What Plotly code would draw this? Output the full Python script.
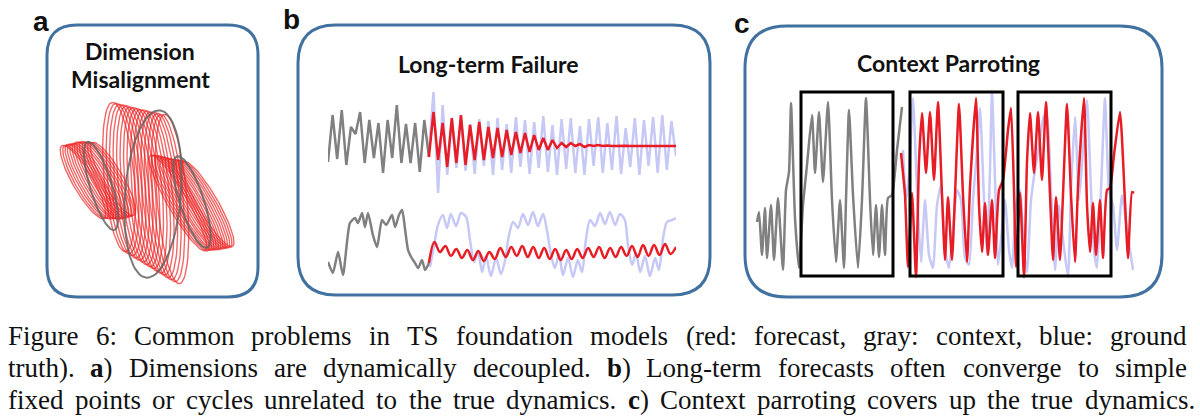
import numpy as np
import plotly.graph_objects as go

W, H = 1200, 419

# ---------------- panel a : phase portrait loops ----------------
# red forecast loops: centre x, centre y, half-length, half-width, tilt (deg)
a_mid_cx = [-29, -25.5, -22, -18.5, -15, -11.5, -8, -4.5, -1, 2.5, 6, 9.5, 13, 16.5, 20, 24]
a_mid_cy = [15, 13.5, 12, 10.5, 9, 7.5, 6, 4.5, 3, 1.5, 0, -1.5, -3, -4.5, -6, -7]
a_mid_len = [75, 75.5, 76, 77, 77.5, 78, 79, 79.5, 80, 81, 81.5, 82, 83, 83.5, 84, 85]
a_mid_wid = 15
a_mid_tilt = 95

a_left_cx = [-65, -62.5, -60, -57.5, -55, -52.5, -50, -47.5, -45, -42.5, -40, -37.5, -35]
a_left_cy = [10, 10, 10.5, 10.5, 11, 11, 11.5, 11.5, 12, 12, 12.5, 12.5, 13]
a_left_len = [42, 42, 42.5, 43, 43, 43.5, 44, 44, 44, 43.5, 43, 42.5, 42]
a_left_wid = 10
a_left_tilt = -60

a_right_cx = [30, 32.5, 35, 37.5, 40, 42.5, 45, 47.5, 50, 52.5, 55, 57.5, 60]
a_right_cy = [-11, -11, -11, -11, -11.5, -11.5, -12, -12, -12, -12, -12, -12, -12]
a_right_len = [55, 55, 54.5, 54, 53.5, 53, 52.5, 52, 51.5, 51, 50.5, 50, 49]
a_right_wid = 10
a_right_tilt = -60

# gray context loops
a_ctx_cx = [5, -47, 44]
a_ctx_cy = [-2, 6, -10]
a_ctx_len = [84, 46, 48]
a_ctx_wid = [28, 11, 12]
a_ctx_tilt = [85.5, -73, -72]

# ---------------- panel b : long-term failure ----------------
b_top_context = [-16, 31, -13, 36, -19, 19, 12, 34, -17, 26, -12, 23, -27, 26,
                 -12, 41, -17, 22, -17, 23, -26, 26, -11]
b_top_forecast = [-11, 34, -14, 23, -21, 28, -17, 31, -19, 21, -14, 24, -14, 19,
                  -12, 18, -11, 16, -9, 14, -7, 13, -6, 11, -4, 8, -4, 6, -2, 3,
                  -1, 3, 0, 2, -1, 1, 0, 1, 0, 0.5, 0, 0.3, 0, 0.2, 0, 0, 0, 0,
                  0, 0, 0, 0, 0, 0, 0]
b_top_truth = [-5, 54, -47, 41, -29, 26, -22, 30, -25, 22, -28, 27, -20, 25,
               -29, 28, -24, 22, -27, 29, -21, 26, -28, 24, -22, 30, -26, 21,
               -29, 27, -23, 28, -27, 20, -29, 27, -20, 29, -27, 23, -24, 30,
               -28, 18, -21, 28, -29, 26, -20, 29, -27, 31, -24, 25, -10]

b_bot_context_t = [0, 1.4, 2.9, 4.3, 6.3, 7.8, 8.6, 9.8, 10.6, 11.5, 12.9, 14.1,
                   15.5, 16.7, 18.4, 19.3, 20.4, 21.3, 22.1, 23.0, 23.9, 25.0,
                   25.9, 27.0, 27.9, 29.0]
b_bot_context = [-12, -23, -2, -25, 27, 32, 27, 37, 23, 37, 15, 3, 30, 25, 35,
                 23, 35, 40, 22, 0, -7, -13, -18, -10, -20, -13]
b_bot_forecast = [-13, 8, -2, 4, -6, 1, -8, 0, -10, -1, -11, -2, -9, 2, -7, 3,
                  -6, 4, -7, 3, -8, 2, -9, 1, -10, 0, -9, 1, -8, 2, -7, 3, -8,
                  2, -7, 3, -6, 4, -7, 5, -6, 5, -5, 6, -4, 3]
b_bot_truth_t = [29.3, 30.5, 31.6, 33.0, 34.2, 35.3, 36.8, 38.2, 39.7, 40.8,
                 42.0, 43.1, 44.3, 45.4, 46.8, 48.3, 49.7, 50.9, 52.0, 53.2,
                 54.6, 56.0, 57.5, 58.9, 60.3, 61.8, 62.9, 64.1, 65.2, 66.4,
                 67.5, 69.0, 70.4, 71.8, 73.0, 74.1, 75.3, 76.7, 78.2, 79.6,
                 81.0, 82.5, 83.9, 85.3, 86.2, 87.4, 88.5, 89.7, 91.1, 92.5,
                 94.0, 95.1, 96.3, 97.4, 98.9, 100]
b_bot_truth = [-17, 5, 25, 35, 22, 36, 24, 37, 33, 10, -12, -2, -22, -6, -26,
               -8, -24, -10, 15, 28, 22, 36, 25, 38, 24, 36, 20, -5, -18, -4,
               -25, -8, -27, -10, -22, 10, 30, 24, 37, 26, 38, 25, 36, 30, 5,
               -15, -3, -22, -6, -26, -8, -20, 12, 28, 30, 32]

# ---------------- panel c : context parroting ----------------
c_context_t = [2, 4, 7, 10, 12, 16, 19, 23, 28, 31, 34, 36, 40, 44, 48, 52, 57,
               60, 64, 68, 73, 77, 81, 85, 89, 91, 94, 98, 103, 107, 111, 115,
               118, 121, 124, 127, 130, 133, 137, 142, 147]
c_context = [58, 68, 25, 72, 22, 75, 20, 82, 10, 90, 108, 177, 62, 12, 75, 115,
             165, 107, 168, 98, 178, 80, 18, 80, 12, 80, 170, 85, 12, 80, 182,
             80, 25, 75, 23, 75, 25, 82, 85, 130, 173]
c_forecast_t = [146, 150, 153, 157, 161, 164, 167, 171, 175, 179, 183, 187,
                190, 193, 197, 200, 204, 208, 212, 215, 221, 224, 227, 230,
                233, 237, 240, 244, 248, 253, 256, 259, 261, 265, 269, 272,
                275, 279, 283, 287, 291, 295, 298, 301, 305, 308, 312, 316,
                320, 323, 329, 332, 335, 338, 341, 345, 348, 352, 355, 359,
                365, 370, 373, 377, 379]
c_forecast = [127, 85, 13, 87, 3, 118, 167, 107, 168, 100, 178, 85, 20, 83, 20,
              85, 176, 85, 18, 93, 182, 75, 28, 77, 25, 80, 22, 90, 100, 150,
              172, 90, 13, 87, 3, 118, 167, 107, 168, 100, 178, 85, 20, 83, 20,
              85, 176, 85, 18, 93, 182, 75, 28, 77, 25, 80, 22, 90, 92, 125,
              168, 78, 22, 88, 87]
c_truth_t = [148, 151, 154, 158, 162, 166, 170, 174, 178, 182, 186, 190, 194,
             198, 202, 206, 210, 214, 218, 222, 225, 229, 232, 235, 237, 240,
             243, 247, 250, 254, 257, 261, 265, 269, 272, 276, 280, 285, 289,
             292, 296, 300, 304, 308, 313, 316, 320, 324, 328, 332, 336, 339,
             342, 346, 350, 354, 358, 362, 367, 372, 378]
c_truth = [130, 80, 105, 182, 90, 18, 80, 25, 12, 75, 95, 30, 12, 50, 90, 80,
           22, 15, 80, 130, 172, 80, 25, 110, 188, 100, 15, 50, 80, 30, 12, 75,
           90, 30, 8, 80, 110, 140, 165, 162, 90, 10, 75, 40, 3, 90, 163, 80,
           130, 180, 90, 30, 12, 90, 182, 90, 75, 30, 85, 50, 10]
c_windows_t0 = [46, 155, 263]
c_windows_t1 = [138, 248, 356]
c_window_lo, c_window_hi = 4, 188

caption_lines = [
    "Figure 6: Common problems in TS foundation models (red: forecast, gray: context, blue: ground",
    "truth). <b>a</b>) Dimensions are dynamically decoupled. <b>b</b>) Long-term forecasts often converge to simple",
    "fixed points or cycles unrelated to the true dynamics. <b>c</b>) Context parroting covers up the true dynamics.",
]

GRAY = "rgb(128,128,128)"
RED = "rgb(232,28,36)"
BLUE = "rgb(198,200,246)"
FRAME = "rgb(65,113,160)"


def xp(p):
    return p / W


def yp(p):
    return 1 - p / H


def ellipse(cx, cy, a, b, tilt):
    s = np.linspace(0, 2 * np.pi, 73)
    th = np.radians(tilt)
    x = cx + a * np.cos(s) * np.cos(th) - b * np.sin(s) * np.sin(th)
    y = cy + a * np.cos(s) * np.sin(th) + b * np.sin(s) * np.cos(th)
    return x, y


fig = go.Figure()

# panel a
red_loops = []
for cx, cy, ln in zip(a_left_cx, a_left_cy, a_left_len):
    red_loops.append((cx, cy, ln, a_left_wid, a_left_tilt))
for cx, cy, ln in zip(a_mid_cx, a_mid_cy, a_mid_len):
    red_loops.append((cx, cy, ln, a_mid_wid, a_mid_tilt))
for cx, cy, ln in zip(a_right_cx, a_right_cy, a_right_len):
    red_loops.append((cx, cy, ln, a_right_wid, a_right_tilt))

for cx, cy, ln, wd, tl in red_loops:
    x, y = ellipse(cx, cy, ln, wd, tl)
    fig.add_trace(go.Scatter(x=x, y=y, mode="lines", xaxis="x", yaxis="y",
                             line=dict(color="rgba(238,30,30,0.68)", width=1.4)))
for i in range(len(a_ctx_cx)):
    x, y = ellipse(a_ctx_cx[i], a_ctx_cy[i], a_ctx_len[i], a_ctx_wid[i], a_ctx_tilt[i])
    fig.add_trace(go.Scatter(x=x, y=y, mode="lines", xaxis="x", yaxis="y",
                             line=dict(color="rgba(100,100,100,0.85)", width=2)))

# panel b
t_top_ctx = np.linspace(0, 29, len(b_top_context))
t_top_fc = np.linspace(29, 100, len(b_top_forecast))
t_bot_fc = np.linspace(29, 100, len(b_bot_forecast))

fig.add_trace(go.Scatter(x=t_top_fc, y=b_top_truth, mode="lines", xaxis="x2", yaxis="y2",
                         line=dict(color=BLUE, width=2.5)))
fig.add_trace(go.Scatter(x=t_top_ctx, y=b_top_context, mode="lines", xaxis="x2", yaxis="y2",
                         line=dict(color=GRAY, width=2.5)))
fig.add_trace(go.Scatter(x=t_top_fc, y=b_top_forecast, mode="lines", xaxis="x2", yaxis="y2",
                         line=dict(color=RED, width=2.5)))

fig.add_trace(go.Scatter(x=b_bot_truth_t, y=b_bot_truth, mode="lines", xaxis="x3", yaxis="y3",
                         line=dict(color=BLUE, width=2.5, shape="spline", smoothing=0.8)))
fig.add_trace(go.Scatter(x=b_bot_context_t, y=b_bot_context, mode="lines", xaxis="x3", yaxis="y3",
                         line=dict(color=GRAY, width=2.5, shape="spline", smoothing=0.6)))
fig.add_trace(go.Scatter(x=t_bot_fc, y=b_bot_forecast, mode="lines", xaxis="x3", yaxis="y3",
                         line=dict(color=RED, width=2.5, shape="spline", smoothing=1)))

# panel c
fig.add_trace(go.Scatter(x=c_truth_t, y=c_truth, mode="lines", xaxis="x4", yaxis="y4",
                         line=dict(color=BLUE, width=2.5, shape="spline", smoothing=0.5)))
fig.add_trace(go.Scatter(x=c_context_t, y=c_context, mode="lines", xaxis="x4", yaxis="y4",
                         line=dict(color=GRAY, width=2.5, shape="spline", smoothing=0.5)))
fig.add_trace(go.Scatter(x=c_forecast_t, y=c_forecast, mode="lines", xaxis="x4", yaxis="y4",
                         line=dict(color=RED, width=2.5, shape="spline", smoothing=0.5)))

for t0, t1 in zip(c_windows_t0, c_windows_t1):
    fig.add_shape(type="rect", xref="x4", yref="y4", x0=t0, x1=t1,
                  y0=c_window_lo, y1=c_window_hi, line=dict(color="black", width=3))


# rounded panel frames
def frame_path(x0, y0, x1, y1, r):
    pts = [
        ("M", [(x0 + r, y0)]), ("L", [(x1 - r, y0)]), ("Q", [(x1, y0), (x1, y0 + r)]),
        ("L", [(x1, y1 - r)]), ("Q", [(x1, y1), (x1 - r, y1)]),
        ("L", [(x0 + r, y1)]), ("Q", [(x0, y1), (x0, y1 - r)]),
        ("L", [(x0, y0 + r)]), ("Q", [(x0, y0), (x0 + r, y0)]),
    ]
    out = ""
    for cmd, ps in pts:
        out += cmd + " " + " ".join(f"{xp(a):.5f},{yp(b):.5f}" for a, b in ps) + " "
    return out + "Z"


for box in [(47, 25, 258, 297, 30), (298, 25, 710, 295, 38), (745, 26, 1162, 297, 42)]:
    fig.add_shape(type="path", xref="paper", yref="paper", path=frame_path(*box),
                  line=dict(color=FRAME, width=3))

annotations = []
for lbl, x, y in [("a", 41, 21), ("b", 291, 20), ("c", 742, 24)]:
    annotations.append(dict(text=lbl, x=xp(x), y=yp(y), xref="paper", yref="paper",
                            showarrow=False, xanchor="center", yanchor="middle",
                            font=dict(family="Liberation Sans", size=28, color="#111", weight="bold")))
for txt, x, y in [("Dimension", 140, 51), ("Misalignment", 140, 79),
                  ("Long-term Failure", 488, 64), ("Context Parroting", 948, 63)]:
    annotations.append(dict(text=txt, x=xp(x), y=yp(y), xref="paper", yref="paper",
                            showarrow=False, xanchor="center", yanchor="middle",
                            font=dict(family="Lato", size=23, color="#111", weight="bold")))

# justified caption, Times metrics
TIMES = dict(zip("abcdefghijklmnopqrstuvwxyz",
                 [444, 500, 444, 500, 444, 333, 500, 500, 278, 278, 500, 278, 778,
                  500, 500, 500, 500, 333, 389, 278, 500, 500, 722, 500, 500, 444]))
TIMES.update({"F": 556, "C": 667, "T": 611, "S": 556, "L": 611, "D": 722,
              "(": 333, ")": 333, ":": 278, ",": 250, ".": 250, "-": 333, "6": 500})
CAP = 27
line_ends = [1187, 1187, 1195]
baselines = [344, 376, 408]
for line, x_end, base in zip(caption_lines, line_ends, baselines):
    words = line.split(" ")
    widths = [sum(TIMES.get(ch, 500) for ch in w.replace("<b>", "").replace("</b>", "")) * CAP / 1000
              for w in words]
    gap = (x_end - 8 - sum(widths)) / (len(words) - 1)
    x = 8
    for w, wd in zip(words, widths):
        annotations.append(dict(text=w, x=xp(x + wd / 2), y=yp(base - 8), xref="paper", yref="paper",
                                showarrow=False, xanchor="center", yanchor="middle", borderpad=0,
                                font=dict(family="Liberation Serif", size=CAP, color="#111")))
        x += wd + gap


def ax(d0, d1, r0, r1):
    return dict(domain=[d0, d1], range=[r0, r1], visible=False, fixedrange=True)


fig.update_layout(
    width=W, height=H, margin=dict(l=0, r=0, t=0, b=0),
    paper_bgcolor="white", plot_bgcolor="rgba(0,0,0,0)", showlegend=False,
    xaxis=dict(ax(xp(55), xp(240), -93, 92), anchor="y"),
    yaxis=dict(ax(yp(290), yp(95), -98, 97), anchor="x"),
    xaxis2=dict(ax(xp(328), xp(676), 0, 100), anchor="y2"),
    yaxis2=dict(ax(yp(200), yp(88), -54, 58), anchor="x2"),
    xaxis3=dict(ax(xp(328), xp(676), 0, 100), anchor="y3"),
    yaxis3=dict(ax(yp(285), yp(200), -35, 50), anchor="x3"),
    xaxis4=dict(ax(xp(755), xp(1140), 0, 385), anchor="y4"),
    yaxis4=dict(ax(yp(290), yp(85), -10, 195), anchor="x4"),
    annotations=annotations,
)

# the page body has a default 8px margin; drop it so the figure fills the window
fig.write_html("out.html", config={"displayModeBar": False},
               post_script="document.body.style.margin='0';")
